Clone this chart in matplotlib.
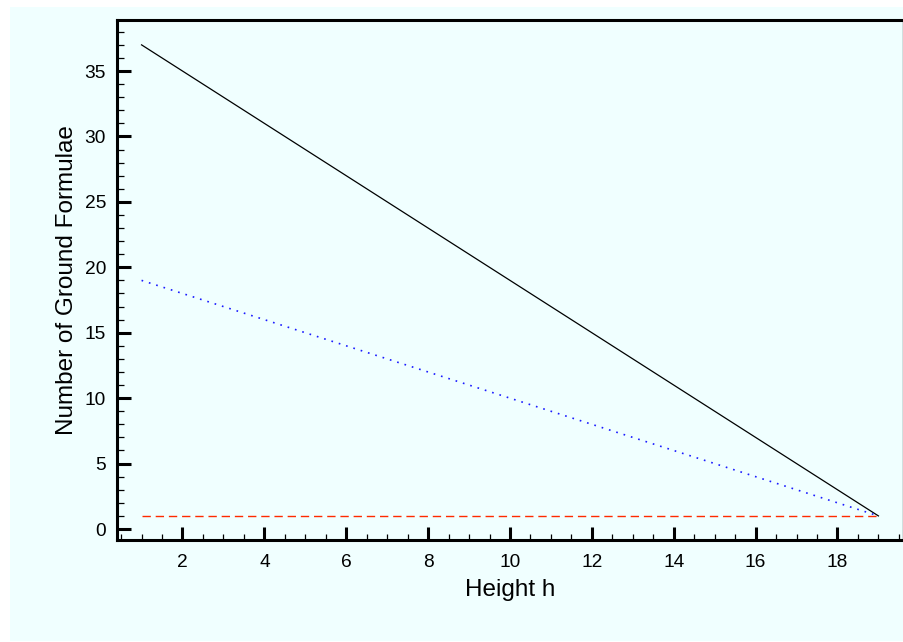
import matplotlib
matplotlib.use("Agg")
import matplotlib.pyplot as plt
from matplotlib.patches import Rectangle
from matplotlib.ticker import MultipleLocator

# Data
height = [1, 2, 3, 4, 5, 6, 7, 8, 9, 10, 11, 12, 13, 14, 15, 16, 17, 18, 19]
total_formulae = [37, 35, 33, 31, 29, 27, 25, 23, 21, 19, 17, 15, 13, 11, 9, 7, 5, 3, 1]
half_formulae = [19, 18, 17, 16, 15, 14, 13, 12, 11, 10, 9, 8, 7, 6, 5, 4, 3, 2, 1]
one_formula = [1, 1, 1, 1, 1, 1, 1, 1, 1, 1, 1, 1, 1, 1, 1, 1, 1, 1, 1]

BG = "#F0FFFF"

plt.rcParams["font.family"] = ["Liberation Sans", "DejaVu Sans"]

fig = plt.figure(figsize=(9.04, 6.42), dpi=100, facecolor="white")
# cyan panel behind everything (white strip on top and left)
fig.patches.append(Rectangle((10 / 904, 1 / 642), 1 - 10 / 904, 634 / 642,
                             transform=fig.transFigure, facecolor=BG,
                             edgecolor="none", zorder=-10))

ax = fig.add_axes([117 / 904, 102 / 642, 786 / 904, 520 / 642])
ax.set_facecolor(BG)

ax.plot(height, total_formulae, color="black", lw=0.9)
ax.plot(height, half_formulae, color="#1a1aff", lw=1.2, linestyle=(0, (1.0, 3.6)))
ax.plot(height, one_formula, color="#ff2a00", lw=1.0, linestyle=(0, (6, 3.5)))

ax.set_xlim(0.4, 19.6)
ax.set_ylim(-0.84, 38.9)

ax.xaxis.set_major_locator(MultipleLocator(2))
ax.xaxis.set_minor_locator(MultipleLocator(0.5))
ax.yaxis.set_major_locator(MultipleLocator(5))
ax.yaxis.set_minor_locator(MultipleLocator(1))

ax.tick_params(which="both", direction="in", top=False, right=False,
               labelsize=13.8, colors="black")
ax.tick_params(axis="y", which="major", length=10, width=2.2, pad=8)
ax.tick_params(axis="y", which="minor", length=5, width=0.9)
ax.tick_params(axis="x", which="major", length=9.5, width=2.2, pad=10)
ax.tick_params(axis="x", which="minor", length=4.5, width=0.9)

for side in ["left", "bottom", "top"]:
    ax.spines[side].set_linewidth(2.2)
ax.spines["right"].set_linewidth(0.9)

ax.set_xlabel("Height h", fontsize=17.5, labelpad=6)
ax.set_ylabel("Number of Ground Formulae", fontsize=17.5, labelpad=5)

fig.savefig("out.png", dpi=100, facecolor=fig.get_facecolor())
